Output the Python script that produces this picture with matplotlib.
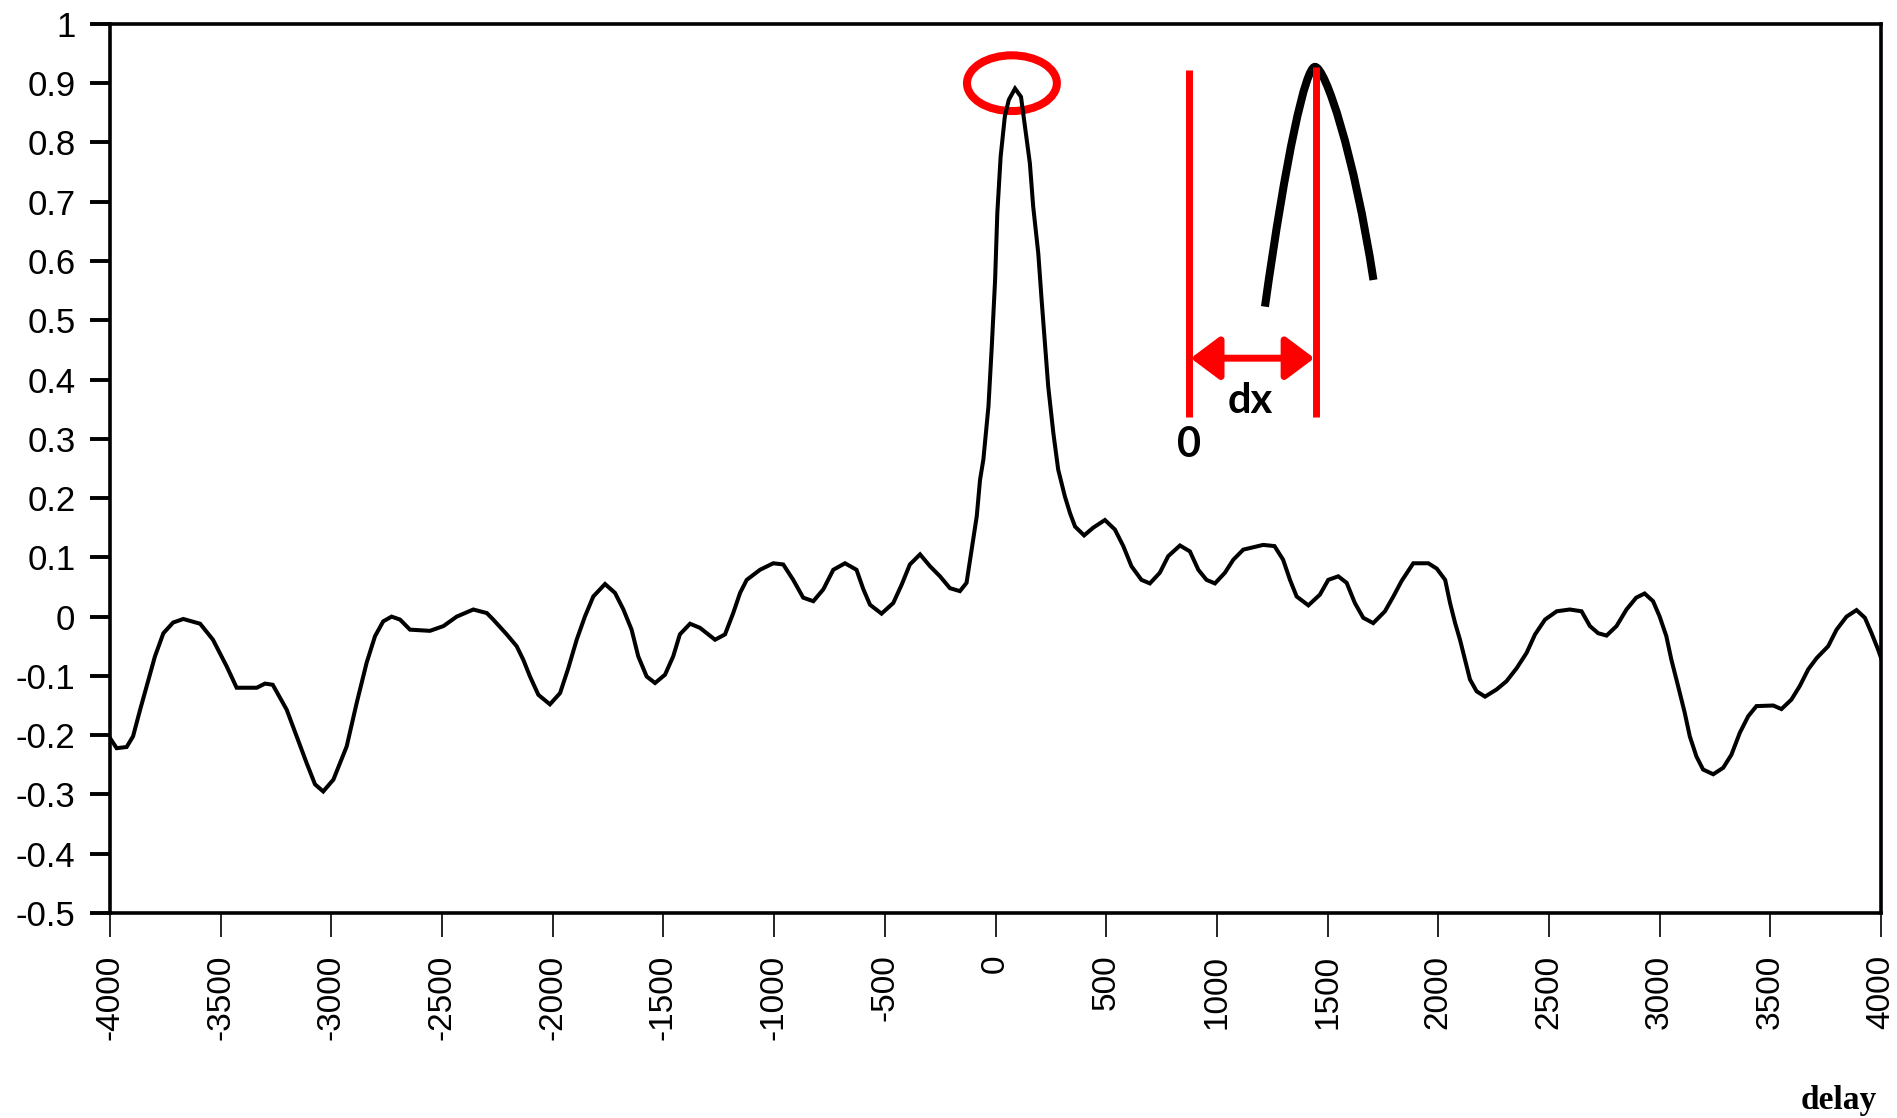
import matplotlib

matplotlib.use("Agg")
import matplotlib.pyplot as plt
from matplotlib.patches import Ellipse, PathPatch
from matplotlib.path import Path

# correlation curve
delay = [
    -4000, -3970, -3925, -3896, -3864, -3834, -3797, -3759, -3715, -3669,
    -3593, -3535, -3473, -3428, -3337, -3300, -3265, -3202, -3157, -3112,
    -3074, -3037, -2991, -2931, -2886, -2841, -2803, -2766, -2728, -2690,
    -2645, -2555, -2494, -2434, -2359, -2298, -2269, -2208, -2163, -2133,
    -2103, -2065, -2013, -1967, -1930, -1892, -1855, -1817, -1764, -1719,
    -1681, -1644, -1614, -1576, -1538, -1493, -1456, -1426, -1380, -1335,
    -1267, -1222, -1185, -1154, -1124, -1064, -1004, -959, -914, -869,
    -823, -778, -733, -680, -628, -597, -567, -515, -462, -424,
    -387, -341, -296, -251, -206, -161, -131, -108, -85, -70,
    -55, -32, -17, -2, 8, 23, 42, 60, 88, 115,
    133, 155, 170, 193, 208, 223, 238, 261, 283, 313,
    336, 359, 400, 441, 494, 539, 577, 614, 659, 697,
    742, 780, 833, 878, 916, 953, 991, 1036, 1074, 1119,
    1209, 1260, 1299, 1330, 1360, 1413, 1465, 1503, 1548, 1586,
    1623, 1661, 1706, 1759, 1797, 1834, 1887, 1955, 1993, 2031,
    2053, 2076, 2098, 2121, 2143, 2173, 2211, 2263, 2308, 2354,
    2399, 2437, 2482, 2535, 2594, 2647, 2685, 2722, 2760, 2805,
    2850, 2894, 2932, 2970, 3000, 3030, 3053, 3083, 3113, 3136,
    3166, 3196, 3242, 3287, 3324, 3362, 3400, 3437, 3513, 3550,
    3595, 3633, 3671, 3709, 3761, 3799, 3844, 3889, 3927, 3957,
    3987, 4000,
]
corr = [
    -0.205, -0.222, -0.220, -0.202, -0.157, -0.117, -0.067, -0.028, -0.010, -0.004,
    -0.012, -0.039, -0.084, -0.120, -0.120, -0.113, -0.115, -0.157, -0.202, -0.247,
    -0.283, -0.295, -0.275, -0.219, -0.146, -0.078, -0.033, -0.008, 0.000, -0.005,
    -0.022, -0.024, -0.016, 0.000, 0.012, 0.006, -0.005, -0.030, -0.050, -0.073,
    -0.101, -0.132, -0.148, -0.129, -0.087, -0.039, 0.000, 0.034, 0.055, 0.040,
    0.012, -0.022, -0.067, -0.101, -0.112, -0.098, -0.067, -0.030, -0.012, -0.019,
    -0.039, -0.030, 0.006, 0.040, 0.062, 0.079, 0.090, 0.088, 0.062, 0.032,
    0.026, 0.046, 0.079, 0.090, 0.079, 0.046, 0.020, 0.005, 0.023, 0.054,
    0.088, 0.105, 0.085, 0.068, 0.048, 0.043, 0.057, 0.113, 0.169, 0.231,
    0.265, 0.355, 0.456, 0.568, 0.681, 0.776, 0.844, 0.872, 0.891, 0.877,
    0.827, 0.765, 0.692, 0.613, 0.535, 0.461, 0.388, 0.310, 0.248, 0.203,
    0.175, 0.152, 0.137, 0.150, 0.163, 0.147, 0.119, 0.085, 0.062, 0.056,
    0.074, 0.102, 0.120, 0.110, 0.079, 0.062, 0.056, 0.074, 0.096, 0.113,
    0.121, 0.119, 0.096, 0.062, 0.034, 0.019, 0.037, 0.062, 0.068, 0.057,
    0.023, -0.002, -0.011, 0.009, 0.034, 0.060, 0.090, 0.090, 0.081, 0.062,
    0.023, -0.011, -0.039, -0.073, -0.106, -0.126, -0.135, -0.123, -0.109, -0.087,
    -0.061, -0.030, -0.005, 0.009, 0.012, 0.009, -0.016, -0.028, -0.032, -0.016,
    0.012, 0.032, 0.039, 0.026, 0.000, -0.033, -0.073, -0.117, -0.162, -0.202,
    -0.236, -0.258, -0.266, -0.255, -0.233, -0.196, -0.168, -0.151, -0.150, -0.156,
    -0.140, -0.117, -0.089, -0.070, -0.050, -0.022, 0.000, 0.011, -0.002, -0.028,
    -0.056, -0.070,
]

x_ticks = [-4000, -3500, -3000, -2500, -2000, -1500, -1000, -500, 0,
           500, 1000, 1500, 2000, 2500, 3000, 3500, 4000]
x_tick_labels = ["-4000", "-3500", "-3000", "-2500", "-2000", "-1500", "-1000", "-500", "0",
                 "500", "1000", "1500", "2000", "2500", "3000", "3500", "4000"]
y_ticks = [1.0, 0.9, 0.8, 0.7, 0.6, 0.5, 0.4, 0.3, 0.2, 0.1, 0.0,
           -0.1, -0.2, -0.3, -0.4, -0.5]
y_tick_labels = ["1", "0.9", "0.8", "0.7", "0.6", "0.5", "0.4", "0.3", "0.2", "0.1", "0",
                 "-0.1", "-0.2", "-0.3", "-0.4", "-0.5"]

TICK_FONT = ["Liberation Sans", "DejaVu Sans"]
NOTE_FONT = ["Lato", "Open Sans", "DejaVu Sans"]
RED = "#ff0000"

fig = plt.figure(figsize=(18.97, 11.18), dpi=100)
ax = fig.add_axes([0.058, 0.1834, 0.9336, 0.7952])

ax.plot(delay, corr, color="black", linewidth=2.9, solid_joinstyle="miter")
ax.set_xlim(-4000, 4000)
ax.set_ylim(-0.5, 1.0)

ax.set_xticks(x_ticks)
ax.set_xticklabels(x_tick_labels, rotation=90, family=TICK_FONT, fontsize=24)
ax.set_yticks(y_ticks)
ax.set_yticklabels(y_tick_labels, family=TICK_FONT, fontsize=25)
ax.tick_params(axis="y", direction="out", length=14.4, width=2.8, pad=10.5)
ax.tick_params(axis="x", direction="out", length=17, width=1.2, pad=13)
for spine in ax.spines.values():
    spine.set_linewidth(2.6)

# illustration: red circle round the peak
ax.add_patch(Ellipse((74, 0.900), 406, 0.094, fill=False, edgecolor=RED, linewidth=5.8))

# sketch of a shifted peak with the offset dx
ax.plot([874, 874], [0.3376, 0.923], color=RED, linewidth=5.0, solid_capstyle="butt")
ax.plot([1448, 1448], [0.3376, 0.9275], color=RED, linewidth=5.0, solid_capstyle="butt")
ax.annotate("", xy=(1440, 0.436), xytext=(882, 0.436),
            arrowprops=dict(arrowstyle="<|-|>,head_length=0.8,head_width=0.6",
                            mutation_scale=22, color=RED, linewidth=5.0,
                            shrinkA=0, shrinkB=0))
sketch = Path(
    [(1217, 0.523), (1312, 0.777), (1400, 0.9275), (1443, 0.9275),
     (1490, 0.9275), (1620, 0.78), (1707, 0.568)],
    [Path.MOVETO, Path.CURVE4, Path.CURVE4, Path.CURVE4,
     Path.CURVE4, Path.CURVE4, Path.CURVE4],
)
ax.add_patch(PathPatch(sketch, fill=False, edgecolor="black", linewidth=5.8, capstyle="butt"))
ax.text(1150, 0.343, "dx", ha="center", va="baseline", fontsize=30,
        fontweight="bold", family=NOTE_FONT)
ax.text(874, 0.270, "0", ha="center", va="baseline", fontsize=30,
        fontweight="bold", family=NOTE_FONT)

fig.text(0.9895, 0.0161, "delay", ha="right", va="center", fontsize=24,
         fontweight="bold", family=["Liberation Serif", "DejaVu Serif"])

fig.savefig("out.png", dpi=100)
plt.close(fig)
